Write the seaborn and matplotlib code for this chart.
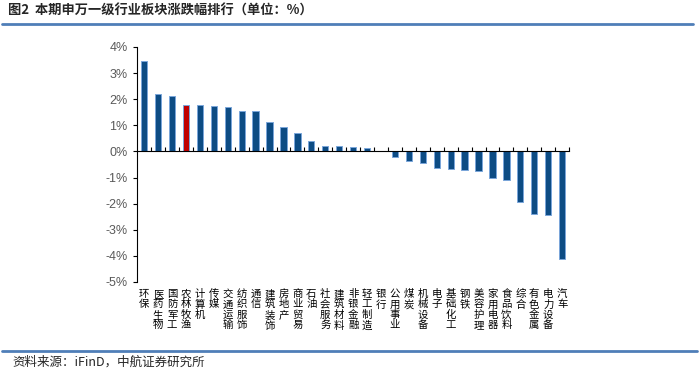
import matplotlib
matplotlib.use("Agg")
import matplotlib.pyplot as plt
import seaborn as sns
import pandas as pd
from matplotlib.lines import Line2D

categories = ["环保", "医药生物", "国防军工", "农林牧渔", "计算机", "传媒", "交通运输", "纺织服饰",
              "通信", "建筑装饰", "房地产", "商业贸易", "石油", "社会服务", "建筑材料", "非银金融",
              "轻工制造", "银行", "公用事业", "煤炭", "机械设备", "电子", "基础化工", "钢铁",
              "美容护理", "家用电器", "食品饮料", "综合", "有色金属", "电力设备", "汽车"]
values = [3.45, 2.21, 2.13, 1.76, 1.78, 1.74, 1.70, 1.55, 1.55, 1.14, 0.93, 0.69, 0.40, 0.19, 0.19,
          0.18, 0.14, 0.01, -0.22, -0.36, -0.46, -0.63, -0.69, -0.72, -0.75, -1.01, -1.09, -1.95,
          -2.40, -2.43, -4.11]
highlight = "农林牧渔"
yticks = [4, 3, 2, 1, 0, -1, -2, -3, -4, -5]
title = "图2  本期申万一级行业板块涨跌幅排行（单位：%）"
source = "资料来源：iFinD，中航证券研究所"

sns.set_theme(style="white")
plt.rcParams['font.family'] = ['Noto Sans CJK SC', 'DejaVu Sans']

df = pd.DataFrame({"cat": categories, "val": values})
blue = "#0D4C84"
red = "#C00000"
palette = {c: (red if c == highlight else blue) for c in categories}

fig = plt.figure(figsize=(7, 3.75), dpi=100)
ax = fig.add_axes([0.196, 0.248, 0.617, 0.627])
sns.barplot(data=df, x="cat", y="val", hue="cat", palette=palette, legend=False,
            width=0.45, ax=ax, saturation=1, edgecolor="#7AA6DA", linewidth=0.7)

ax.set_xlim(-0.5, len(categories) - 0.5)
ax.set_ylim(-5, 4)
ax.set_yticks(yticks)
ax.set_yticklabels([f"{t}%" for t in yticks], fontsize=9, color="#595959",
                   family=['Liberation Sans', 'DejaVu Sans'])
ax.set_xlabel("")
ax.set_ylabel("")

for s in ["top", "right"]:
    ax.spines[s].set_visible(False)
ax.spines["left"].set_color("black")
ax.spines["left"].set_linewidth(0.8)
ax.spines["bottom"].set_position(("data", 0))
ax.spines["bottom"].set_color("black")
ax.spines["bottom"].set_linewidth(0.8)

ax.tick_params(axis="y", which="major", left=True, direction="out", length=3, width=0.8,
               color="black", pad=4)
ax.set_xticks([i + 0.5 for i in range(len(categories))])
ax.set_xticklabels([])
ax.tick_params(axis="x", which="major", bottom=True, direction="in", length=3, width=0.8,
               color="black")
ax.grid(False)

tr = ax.get_xaxis_transform()
for i, c in enumerate(categories):
    ax.text(i, -0.03, "\n".join(c), transform=tr, ha="center", va="top",
            fontsize=7.5, linespacing=1.05, color="black")

fig.text(0.012, 0.972, title, fontsize=9.5, fontweight="bold", ha="left", va="center")
fig.add_artist(Line2D([0.003, 0.99], [0.935, 0.935], transform=fig.transFigure,
                      color="#4F7EB8", linewidth=2))
fig.add_artist(Line2D([0.003, 0.996], [0.064, 0.064], transform=fig.transFigure,
                      color="#4F7EB8", linewidth=2))
fig.text(0.018, 0.035, source, fontsize=9, ha="left", va="center")

fig.savefig("out.png", dpi=100, facecolor="white")
